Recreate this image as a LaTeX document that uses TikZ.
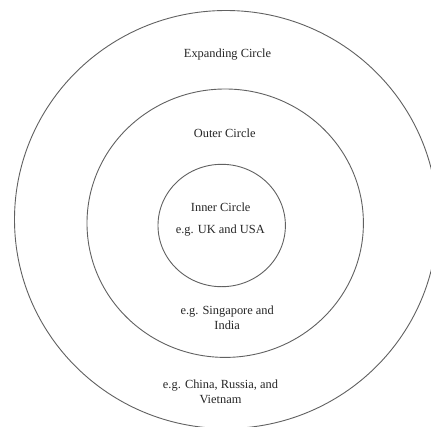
\documentclass[tikz,border=0pt]{standalone}
\usepackage{fontspec}
\setmainfont{Liberation Serif}
\usetikzlibrary{shapes.geometric}
\begin{document}
\begin{tikzpicture}[x=1pt,y=-1pt,
  ring/.style={ellipse,draw=black!62,line width=0.9pt,inner sep=0pt,outer sep=0pt},
  lbl/.style={text=black!85,align=center,inner sep=0pt,font=\fontsize{12.4}{14.5}\selectfont}]
\useasboundingbox[fill=white] (0,0) rectangle (431,426);
\node[ring,minimum width=423pt,minimum height=418pt] (outer) at (226,219.5) {};
\node[ring,minimum width=276.4pt,minimum height=268.4pt] (middle) at (225.2,223.2) {};
\node[ring,minimum width=127.4pt,minimum height=122.4pt] (inner) at (221.7,225.5) {};
\node[lbl] (exp) at (227.5,54.5) {Expanding Circle};
\node[lbl] (out) at (224.7,133) {Outer Circle};
\node[lbl] (inn) at (220.7,207.5) {Inner Circle};
\node[lbl] (uk) at (220.3,230.5) {e.g. UK and USA};
\node[lbl] (sg) at (227.2,318) {e.g. Singapore and\\India};
\node[lbl] (cn) at (220.5,392) {e.g. China, Russia, and\\Vietnam};
\end{tikzpicture}
\end{document}
